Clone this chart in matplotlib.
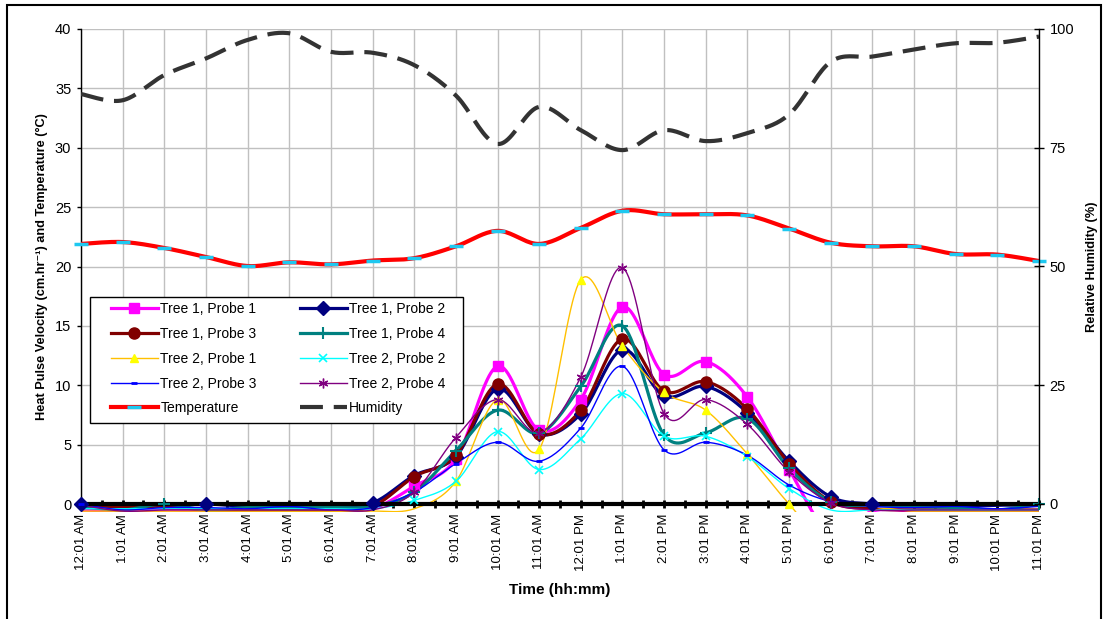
import numpy as np
import matplotlib
matplotlib.use('Agg')
import matplotlib.pyplot as plt
from matplotlib.lines import Line2D
from matplotlib.patches import Rectangle

plt.rcParams['font.family'] = ['Liberation Sans', 'DejaVu Sans']

# hourly readings
hours = ['12:01 AM', '1:01 AM', '2:01 AM', '3:01 AM', '4:01 AM', '5:01 AM',
         '6:01 AM', '7:01 AM', '8:01 AM', '9:01 AM', '10:01 AM', '11:01 AM',
         '12:01 PM', '1:01 PM', '2:01 PM', '3:01 PM', '4:01 PM', '5:01 PM',
         '6:01 PM', '7:01 PM', '8:01 PM', '9:01 PM', '10:01 PM', '11:01 PM']

t1p1 = [-0.5, -0.6, -0.5, -0.6, -0.6, -0.5, -0.6, -0.4, 1.5, 3.8, 11.6, 6.2,
        8.8, 16.6, 10.9, 12.0, 9.0, 2.9, -2.5, -0.6, -0.6, -0.6, -0.6, -0.6]
t1p2 = [0.0, -0.3, -0.1, 0.0, -0.2, -0.1, -0.1, 0.1, 2.4, 4.0, 9.7, 5.9,
        7.6, 13.0, 9.1, 9.9, 7.7, 3.6, 0.6, 0.0, -0.2, -0.2, -0.1, -0.1]
t1p3 = [-0.3, -0.3, -0.2, -0.5, -0.5, -0.5, -0.5, -0.2, 2.3, 4.1, 10.1, 5.9,
        7.9, 13.9, 9.5, 10.3, 8.0, 3.4, 0.2, -0.4, -0.5, -0.5, -0.5, -0.5]
t1p4 = [-0.2, -0.5, 0.0, -0.5, -0.3, -0.3, -0.3, -0.2, 1.0, 4.5, 7.9, 5.95,
        9.9, 15.0, 5.8, 6.0, 7.2, 3.0, 0.2, -0.1, -0.2, -0.3, -0.5, 0.0]
t2p1 = [-0.6, -0.6, -0.6, -0.6, -0.6, -0.6, -0.6, -0.6, -0.4, 1.9, 8.8, 4.6,
        18.9, 13.3, 9.4, 7.9, 4.2, 0.0, -3.5, -0.6, -0.6, -0.6, -0.6, -0.6]
t2p2 = [-0.4, -0.4, -0.4, -0.4, -0.4, -0.4, -0.4, -0.4, 0.3, 1.9, 6.1, 2.9,
        5.5, 9.3, 5.7, 5.7, 4.0, 1.3, -0.5, -0.5, -0.5, -0.5, -0.5, -0.5]
t2p3 = [0.0, -0.5, -0.3, -0.3, -0.4, -0.2, -0.5, -0.3, 1.0, 3.4, 5.2, 3.6,
        6.4, 11.6, 4.55, 5.2, 4.1, 1.6, 0.2, -0.2, -0.3, -0.2, -0.4, -0.2]
t2p4 = [-0.1, -0.6, -0.5, -0.5, -0.5, -0.5, -0.5, -0.5, 1.0, 5.6, 8.8, 6.0,
        10.7, 19.9, 7.6, 8.8, 6.7, 2.7, 0.1, -0.5, -0.5, -0.5, -0.5, -0.5]

temperature = [21.9, 22.06, 21.56, 20.8, 20.04, 20.35, 20.18, 20.5, 20.7, 21.7,
               23.0, 21.9, 23.25, 24.7, 24.4, 24.4, 24.3, 23.2, 22.0, 21.7,
               21.7, 21.05, 21.0, 20.46]
humidity = [86.3, 85.0, 90.3, 93.8, 97.7, 99.1, 95.2, 95.0, 92.4, 86.0, 75.8,
            83.6, 78.7, 74.5, 78.7, 76.4, 78.1, 82.0, 93.1, 94.2, 95.7, 97.0,
            97.1, 98.4]


def smooth(xs, ys, n=20):
    # catmull-rom curve through the points, like excel's smoothed line
    xs = np.asarray(xs, float)
    ys = np.asarray(ys, float)
    t = np.linspace(0, 1, n, endpoint=False)[:, None]
    out = []
    for v in (xs, ys):
        p = np.r_[v[0], v, v[-1]]
        p0, p1, p2, p3 = p[:-3], p[1:-2], p[2:-1], p[3:]
        c = 0.5 * (2 * p1 + (p2 - p0) * t + (2 * p0 - 5 * p1 + 4 * p2 - p3) * t ** 2
                   + (3 * p1 - p0 - 3 * p2 + p3) * t ** 3)
        out.append(np.r_[c.T.ravel(), v[-1]])
    return out


fig = plt.figure(figsize=(11.1, 6.19), dpi=100)
ax = fig.add_axes([81 / 1110, 1 - 504 / 619, (1039 - 81) / 1110, (504 - 29) / 619])
ax2 = ax.twinx()
x = np.arange(len(hours))

series = [
    ('Tree 1, Probe 1', t1p1, '#FF00FF', '#FF00FF', 's', 7, 2.3, 1),
    ('Tree 1, Probe 2', t1p2, '#000080', '#000080', 'D', 7, 2.3, 1),
    ('Tree 1, Probe 3', t1p3, '#800000', '#800000', 'o', 8, 2.3, 1),
    ('Tree 1, Probe 4', t1p4, '#008080', '#008080', '+', 9, 2.3, 1.5),
    ('Tree 2, Probe 1', t2p1, '#FFC000', '#FFFF00', '^', 6, 1.0, 1),
    ('Tree 2, Probe 2', t2p2, '#00FFFF', '#00FFFF', 'x', 6, 1.0, 1.2),
    ('Tree 2, Probe 3', t2p3, '#0000FF', '#0000FF', '_', 5, 1.0, 2),
    ('Tree 2, Probe 4', t2p4, '#800080', '#800080', (6, 2, 0), 7, 1.0, 1),
]

handles = {}
for label, vals, col, mcol, mk, ms, lw, mew in series:
    vals = np.asarray(vals, float)
    sx, sy = smooth(x, vals)
    ln, = ax.plot(sx, sy, color=col, lw=lw, zorder=2)
    ln.set_clip_path(Rectangle((0, -0.017), 1, 1.017, transform=ax.transAxes))
    shown = np.where(vals >= 0, vals, np.nan)
    ax.plot(x, shown, ls='none', marker=mk, ms=ms, mfc=mcol, mec=mcol, mew=mew,
            zorder=4, clip_on=False)
    handles[label] = Line2D([], [], color=col, lw=lw, marker=mk, ms=ms, mfc=mcol,
                            mec=mcol, mew=mew)

sx, sy = smooth(x, temperature)
ax.plot(sx, sy, color='#FF0000', lw=3, zorder=3)
ax.plot(x, temperature, ls='none', marker='_', ms=10, mew=2.5, color='#1EC8F0',
        zorder=4, clip_on=False)
handles['Temperature'] = Line2D([], [], color='#FF0000', lw=3, marker='_', ms=10,
                                mew=2.5, mec='#1EC8F0')

sx, sy = smooth(x, humidity)
ax2.plot(sx, sy, color='#333333', lw=3, dashes=(5.5, 2.6))
handles['Humidity'] = Line2D([], [], color='#333333', lw=3, dashes=(5.5, 2.6))

ax.set_xlim(0, len(hours) - 1)
ax.set_ylim(0, 40)
ax2.set_ylim(0, 100)
ax.set_yticks(range(0, 41, 5))
ax2.set_yticks(range(0, 101, 25))
ax.set_xticks(x)
ax.set_xticklabels(hours, rotation=90, fontsize=9.5)
ax.set_xticks(np.arange(0, len(hours) - 0.9, 0.5), minor=True)
ax.grid(True, color='#C0C0C0', lw=1)
ax.set_axisbelow(True)

for s in ['top', 'right']:
    ax.spines[s].set_visible(False)
for s in ['top', 'left', 'bottom']:
    ax2.spines[s].set_visible(False)
ax.spines['bottom'].set_linewidth(3)
ax.spines['bottom'].set_zorder(3)
ax.spines['left'].set_linewidth(1)
ax2.spines['right'].set_linewidth(1)

ax.tick_params(axis='x', which='both', direction='inout', length=6, width=2, pad=4)
ax.tick_params(axis='y', direction='out', length=3, width=1, pad=4, labelsize=10.5)
ax2.tick_params(axis='y', direction='inout', length=7, width=1, pad=4, labelsize=10.5)

ax.set_xlabel('Time (hh:mm)', fontsize=11, fontweight='bold')
ax.xaxis.set_label_coords(0.5, -(590 - 504) / 475)
ax.xaxis.label.set_va('center')
ax.set_ylabel('Heat Pulse Velocity (cm.hr\u207b\u00b9) and Temperature (\u00b0C)',
              fontsize=9.2, fontweight='bold', va='center')
ax.yaxis.set_label_coords((42 - 81) / 958, 0.5)
ax2.set_ylabel('Relative Humidity (%)', fontsize=9.2, fontweight='bold', va='center')
ax2.yaxis.set_label_coords((1092 - 81) / 958, 0.5)

# legend: rows read left to right
order = ['Tree 1, Probe 1', 'Tree 1, Probe 3', 'Tree 2, Probe 1', 'Tree 2, Probe 3',
         'Temperature', 'Tree 1, Probe 2', 'Tree 1, Probe 4', 'Tree 2, Probe 2',
         'Tree 2, Probe 4', 'Humidity']
fig.add_artist(Rectangle((90 / 1110, 1 - 423 / 619), 373 / 1110, 126 / 619,
                         transform=fig.transFigure, facecolor='white',
                         edgecolor='black', lw=1, zorder=4))
fig.legend([handles[k] for k in order], order, ncol=2, frameon=False,
           loc='upper left', bbox_to_anchor=(111 / 1110, 1 - 302 / 619),
           borderpad=0, borderaxespad=0, fontsize=10, handlelength=3.36,
           handletextpad=0.2, columnspacing=3.1, labelspacing=0.78)

fig.add_artist(Rectangle((7 / 1110, -0.01), 1094 / 1110, 1.0019,
                         transform=fig.transFigure, fill=False,
                         edgecolor='black', lw=1.5))

fig.savefig('out.png', dpi=100)
